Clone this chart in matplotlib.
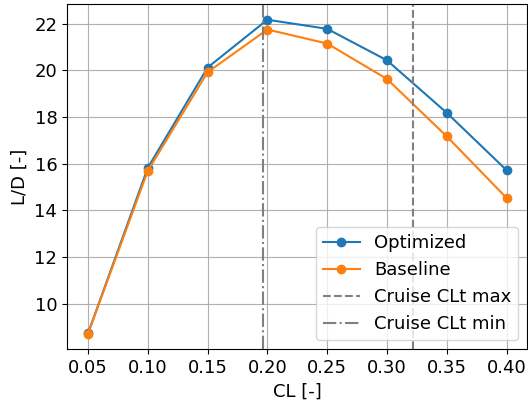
import numpy as np
import matplotlib.pyplot as plt

cl = [0.05, 0.10, 0.15, 0.20, 0.25, 0.30, 0.35, 0.40]
ld_optimized = [8.72, 15.82, 20.12, 22.17, 21.78, 20.43, 18.18, 15.72]
ld_baseline = [8.71, 15.69, 19.92, 21.75, 21.15, 19.63, 17.17, 14.53]
cl_cruise_max = 0.322
cl_cruise_min = 0.196

plt.rcParams['font.size'] = 13

fig, ax = plt.subplots(figsize=(5.28, 4.03), dpi=100)
fig.subplots_adjust(left=0.127, right=0.999, bottom=0.133, top=0.99)

ax.plot(cl, ld_optimized, marker="o", label="Optimized")
ax.plot(cl, ld_baseline, marker="o", label="Baseline")
ax.axvline(cl_cruise_max, color="gray", linestyle="--", label="Cruise CLt max")
ax.axvline(cl_cruise_min, color="gray", linestyle="-.", label="Cruise CLt min")

ax.set_xticks(cl)
ax.set_xlabel("CL [-]")
ax.set_ylabel("L/D [-]")
ax.grid(True)
ax.legend(loc="lower right")

fig.savefig("out.png")
